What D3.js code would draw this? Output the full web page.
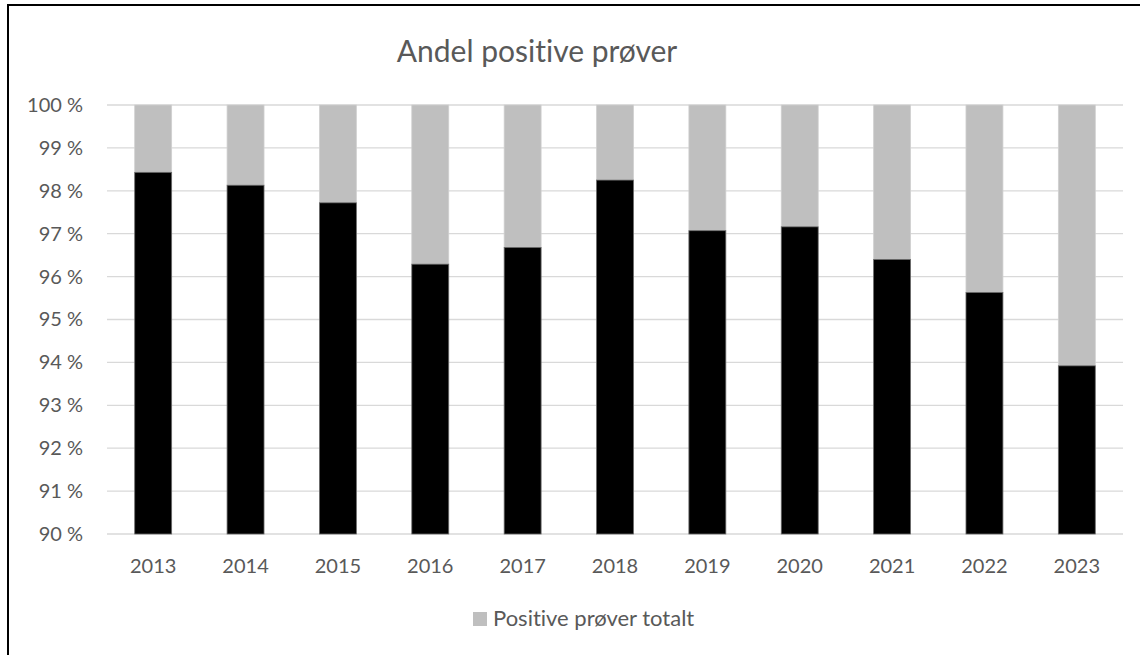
<!DOCTYPE html>
<html>
<head>
<meta charset="utf-8">
<script src="https://cdn.jsdelivr.net/npm/d3@7"></script>
<style>
  body { margin: 0; background: #fff; }
  svg { display: block; font-family: Lato, "Open Sans", sans-serif; font-variant-ligatures: none; }
</style>
</head>
<body>
<svg id="chart" width="1140" height="655"></svg>
<script>
// data
const years = ["2013", "2014", "2015", "2016", "2017", "2018", "2019", "2020", "2021", "2022", "2023"];
const blackValues = [98.43, 98.13, 97.72, 96.29, 96.68, 98.25, 97.07, 97.16, 96.40, 95.63, 93.92];
const totalValues = [100, 100, 100, 100, 100, 100, 100, 100, 100, 100, 100];
const yTicks = [90, 91, 92, 93, 94, 95, 96, 97, 98, 99, 100];
const legendLabel = "Positive prøver totalt";
const title = "Andel positive prøver";

const svg = d3.select("#chart");
const textColor = "#595959";

// frame (only top and left are inside the picture)
svg.append("path")
    .attr("d", "M8,655 V5 H1140")
    .attr("fill", "none")
    .attr("stroke", "#000")
    .attr("stroke-width", 2);

const x = d3.scaleBand()
    .domain(years)
    .range([107, 1123])
    .paddingInner(0.6)
    .paddingOuter(0.3);

const y = d3.scaleLinear()
    .domain([90, 100])
    .range([534, 105]);

// gridlines
svg.append("g").selectAll("line")
    .data(yTicks)
    .enter().append("line")
    .attr("x1", 107)
    .attr("x2", 1123)
    .attr("y1", d => y(d))
    .attr("y2", d => y(d))
    .attr("stroke", "#d9d9d9")
    .attr("stroke-width", 1.3);

// y axis labels
const yAxis = svg.append("g")
    .attr("transform", "translate(91,0)")
    .call(d3.axisLeft(y).tickValues(yTicks).tickSize(0).tickPadding(8).tickFormat(d => d + " %"));
yAxis.select(".domain").remove();
yAxis.selectAll("text")
    .attr("fill", textColor)
    .style("font-size", "20px")
    .style("font-family", "Lato, 'Open Sans', sans-serif");

// x axis labels
const xAxis = svg.append("g")
    .attr("transform", "translate(0,551)")
    .call(d3.axisBottom(x).tickSize(0).tickPadding(8));
xAxis.select(".domain").remove();
xAxis.selectAll("text")
    .attr("fill", textColor)
    .style("font-size", "20px")
    .style("font-family", "Lato, 'Open Sans', sans-serif");

// gray part: from black top up to total
svg.append("g").selectAll("rect")
    .data(years)
    .enter().append("rect")
    .attr("x", d => x(d))
    .attr("width", x.bandwidth())
    .attr("y", (d, i) => y(totalValues[i]))
    .attr("height", (d, i) => y(blackValues[i]) - y(totalValues[i]))
    .attr("fill", "#bfbfbf")
    .attr("stroke", "#d0d0d0")
    .attr("stroke-width", 0.8);

// black part
svg.append("g").selectAll("rect")
    .data(years)
    .enter().append("rect")
    .attr("x", d => x(d))
    .attr("width", x.bandwidth())
    .attr("y", (d, i) => y(blackValues[i]))
    .attr("height", (d, i) => y(90) - y(blackValues[i]))
    .attr("fill", "#000")
    .attr("stroke", "#6a6a6a")
    .attr("stroke-width", 0.8);

// title
svg.append("text")
    .attr("x", 537)
    .attr("y", 62)
    .attr("text-anchor", "middle")
    .attr("fill", textColor)
    .style("font-size", "30px")
    .text(title);

// legend
const legend = svg.append("g").attr("transform", "translate(473,612)");
legend.append("rect")
    .attr("width", 14)
    .attr("height", 14)
    .attr("fill", "#bfbfbf");
legend.append("text")
    .attr("x", 20)
    .attr("y", 14)
    .attr("fill", textColor)
    .style("font-size", "22px")
    .text(legendLabel);
</script>
</body>
</html>
